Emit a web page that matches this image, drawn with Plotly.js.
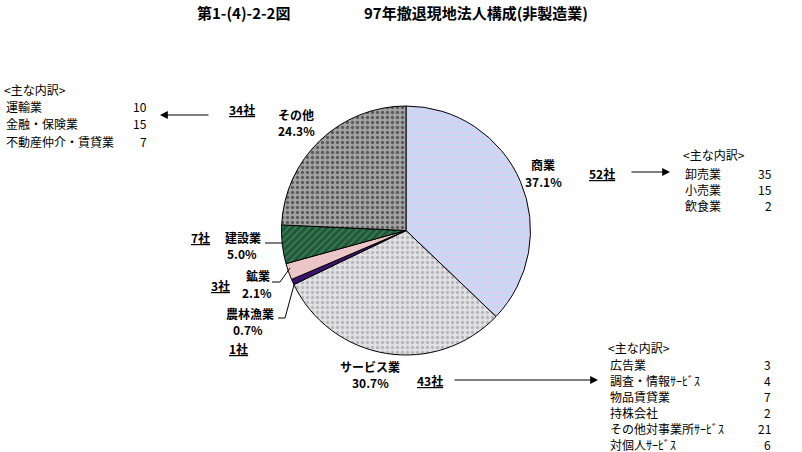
<!DOCTYPE html>
<html>
<head>
<meta charset="utf-8">
<script src="https://cdn.plot.ly/plotly-3.0.1.min.js"></script>
<style>
  body { margin: 0; background: #fff; }
  #myDiv { width: 802px; height: 452px; }
</style>
</head>
<body>
<div id="myDiv"></div>
<script>
// data
var labels = ['商業', 'サービス業', '農林漁業', '鉱業', '建設業', 'その他'];
var counts = [52, 43, 1, 3, 7, 34];

var tradeItems = ['卸売業', '小売業', '飲食業'];
var tradeCounts = [35, 15, 2];

var serviceItems = ['広告業', '調査・情報ｻｰﾋﾞｽ', '物品賃貸業', '持株会社', 'その他対事業所ｻｰﾋﾞｽ', '対個人ｻｰﾋﾞｽ'];
var serviceCounts = [3, 4, 7, 2, 21, 6];

var otherItems = ['運輸業', '金融・保険業', '不動産仲介・賃貸業'];
var otherCounts = [10, 15, 7];

var sliceColors = ['#c4dbf6', '#e2e2e4', '#3a136e', '#ecc6c6', '#1f5838', '#a4a4a4'];
var patFg = ['#e4c8ee', '#b8b8bc', '#3a136e', '#ecc6c6', '#3c7a52', '#5c5c5c'];
var patShape = ['.', '.', '', '', '/', '.'];

var W = 802, H = 452;
function px(x){ return x / W; }
function py(y){ return 1 - y / H; }

var font = 'Noto Sans CJK JP, sans-serif';
var total = counts.reduce(function(a, b){ return a + b; }, 0);

var data = [{
    type: 'pie',
    values: counts,
    labels: labels,
    sort: false,
    direction: 'clockwise',
    rotation: 0,
    textinfo: 'none',
    hoverinfo: 'label+value',
    domain: {x: [px(281), px(531)], y: [py(355), py(106)]},
    marker: {
        colors: sliceColors,
        line: {color: '#000', width: 1},
        pattern: {shape: patShape, fgcolor: patFg, bgcolor: sliceColors, size: 5, solidity: 0.35}
    }
}];

var ann = [];
function txt(x, y, s, opt){
    opt = opt || {};
    ann.push({
        xref: 'paper', yref: 'paper', x: px(x), y: py(y), text: s, showarrow: false,
        xanchor: opt.anchor || 'center', yanchor: 'middle',
        font: {family: font, size: opt.size || 12, color: '#000'}
    });
}
function arrow(x0, x1, y){
    ann.push({
        xref: 'paper', yref: 'paper', x: px(x1), y: py(y), text: '', showarrow: true,
        axref: 'pixel', ayref: 'pixel', ax: x0 - x1, ay: 0,
        arrowhead: 2, arrowsize: 1.3, arrowwidth: 1.2, arrowcolor: '#000'
    });
}
function pct(i){ return (counts[i] * 100 / total).toFixed(1) + '%'; }

// title
txt(244, 12, '<b>第1-(4)-2-2図</b>', {size: 15});
txt(476, 12, '<b>97年撤退現地法人構成(非製造業)</b>', {size: 15});

// slice labels
txt(543, 164, '<b>' + labels[0] + '</b>');
txt(543, 181, '<b>' + pct(0) + '</b>');
txt(602, 173, '<b><u>' + counts[0] + '社</u></b>');

txt(370, 366, '<b>' + labels[1] + '</b>');
txt(370, 382, '<b>' + pct(1) + '</b>');
txt(430, 380, '<b><u>' + counts[1] + '社</u></b>');

txt(250, 313, '<b>' + labels[2] + '</b>');
txt(248, 329, '<b>' + pct(2) + '</b>');
txt(238, 348, '<b><u>' + counts[2] + '社</u></b>');

txt(258, 275, '<b>' + labels[3] + '</b>');
txt(257, 292, '<b>' + pct(3) + '</b>');
txt(220, 285, '<b><u>' + counts[3] + '社</u></b>');

txt(243, 237, '<b>' + labels[4] + '</b>');
txt(242, 253, '<b>' + pct(4) + '</b>');
txt(200, 237, '<b><u>' + counts[4] + '社</u></b>');

txt(296, 114, '<b>' + labels[5] + '</b>');
txt(296, 130, '<b>' + pct(5) + '</b>');
txt(242, 109, '<b><u>' + counts[5] + '社</u></b>');

// arrows
arrow(210, 160, 115);
arrow(630, 670, 172);
arrow(453, 598, 380);

// breakdown lists
function list(x, xr, yh, y1, step, items, nums){
    txt(x, yh, '<主な内訳>', {anchor: 'left'});
    for (var i = 0; i < items.length; i++) {
        txt(x + 2, y1 + step * i, items[i], {anchor: 'left'});
        txt(xr, y1 + step * i, String(nums[i]), {anchor: 'right'});
    }
}
list(2, 149, 89, 107, 17, otherItems, otherCounts);
list(681, 774, 154, 173, 16.5, tradeItems, tradeCounts);
list(606, 773, 347, 364, 16, serviceItems, serviceCounts);

// leader lines
var shapes = [];
function seg(pts){
    var d = 'M' + pts.map(function(p){ return px(p[0]) + ',' + py(p[1]); }).join(' L');
    shapes.push({type: 'path', xref: 'paper', yref: 'paper', path: d, line: {color: '#000', width: 1}});
}
seg([[265, 243], [283, 243]]);
seg([[272, 282], [280, 282], [290, 268]]);
seg([[278, 318], [285, 318], [294, 285]]);

var layout = {
    width: W, height: H,
    margin: {l: 0, r: 0, t: 0, b: 0},
    paper_bgcolor: '#fff',
    showlegend: false,
    annotations: ann,
    shapes: shapes
};

Plotly.newPlot('myDiv', data, layout, {displayModeBar: false, staticPlot: true});
</script>
</body>
</html>
